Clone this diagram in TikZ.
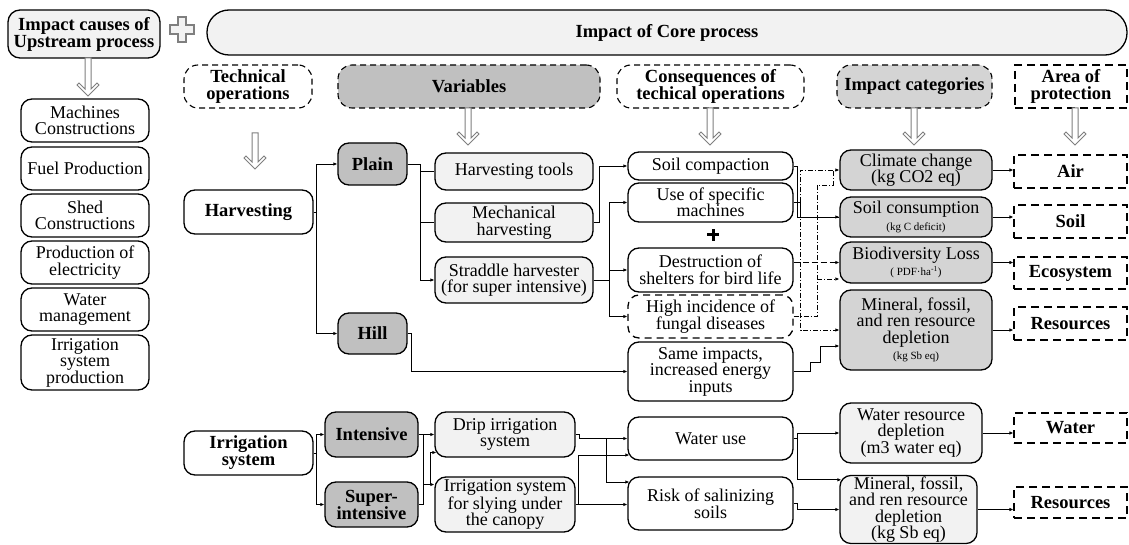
\documentclass[tikz,border=0pt]{standalone}
\usepackage{fontspec}
\setmainfont{Liberation Serif}
\usetikzlibrary{arrows.meta,calc}
\definecolor{lightg}{HTML}{F2F2F2}
\definecolor{midg}{HTML}{D4D4D4}
\definecolor{darkg}{HTML}{C0C0C0}
\definecolor{arrg}{HTML}{7F7F7F}
\newcommand\fsn{\fontsize{18}{16.5}\selectfont}
\newcommand\fsb{\fontsize{18.5}{17}\selectfont\bfseries}
\newcommand\fss{\fontsize{11}{11}\selectfont}
\newcommand\bx[7]{\node[#2, minimum width={#5-#3}, minimum height={#6-#4}] (#1) at ({(#3+#5)/2},{(#4+#6)/2}) {#7};}
\newcommand\harrow[3]{\draw[arrg, line width=1pt, fill=white, line join=miter] (#1-3,#2) -- (#1-3,#3-7) -- (#1-9,#3-13) -- (#1-11,#3-11) -- (#1,#3) -- (#1+11,#3-11) -- (#1+9,#3-13) -- (#1+3,#3-7) -- (#1+3,#2) -- cycle;}
\tikzset{
 bxs/.style={draw, line width=1.3pt, rounded corners=11pt, align=center, inner sep=1pt, font=\fsn},
 lt/.style={bxs, fill=lightg},
 dk/.style={bxs, fill=darkg, font=\fsb},
 md/.style={bxs, fill=midg},
 hd/.style={draw, line width=1.1pt, dash pattern=on 6pt off 4pt, rounded corners=14pt, align=center, inner sep=1pt, font=\fsb},
 aop/.style={draw, line width=1.1pt, dash pattern=on 8pt off 5pt, align=center, inner sep=1pt, font=\fsb},
 ln/.style={line width=0.8pt},
 ar/.style={ln, -{Latex[length=4pt,width=3.5pt]}},
 dd/.style={ln, dash pattern=on 5pt off 2pt on 1pt off 2pt},
}
\begin{document}
\begin{tikzpicture}[x=1pt,y=-1pt]
\useasboundingbox (0,0) rectangle (1129,545);
% top
\bx{ups}{bxs,fill=lightg,font=\fsb,rounded corners=12pt}{8}{10}{160}{58}{Impact causes of\\Upstream process}
\bx{core}{bxs,fill=lightg,font=\fsb,rounded corners=22pt}{207}{10}{1127}{55}{Impact of Core process}
\draw[arrg, line width=1.1pt, fill=lightg] (178,17) -- (186,17) -- (186,25) -- (194,25) -- (194,34) -- (186,34) -- (186,42) -- (178,42) -- (178,34) -- (170,34) -- (170,25) -- (178,25) -- cycle;
% headers
\bx{hto}{hd}{184}{65}{312}{108}{Technical\\operations}
\bx{hvar}{hd,fill=darkg}{338}{65}{600}{108}{Variables}
\bx{hcon}{hd}{617}{65}{804}{108}{Consequences of\\techical operations}
\bx{hcat}{hd,fill=midg}{837}{65}{992}{108}{Impact categories}
\bx{haop}{aop}{1015}{65}{1127}{108}{Area of\\protection}
% hollow arrows
\harrow{88}{58}{96}
\harrow{255}{133}{169}
\harrow{468}{108}{145}
\harrow{710}{108}{145}
\harrow{914}{108}{145}
\harrow{1075}{108}{145}
% upstream
\bx{u1}{bxs}{21}{99}{149}{142}{Machines\\Constructions}
\bx{u2}{bxs}{21}{147}{149}{190}{Fuel Production}
\bx{u3}{bxs}{21}{194}{149}{237}{Shed\\Constructions}
\bx{u4}{bxs}{21}{241}{149}{284}{Production of\\electricity}
\bx{u5}{bxs}{21}{288}{149}{331}{Water\\management}
\bx{u6}{bxs}{21}{335}{149}{390}{Irrigation\\system\\production}
% technical operations
\bx{harv}{bxs,font=\fsb}{184}{190}{313}{234}{Harvesting}
\bx{irr}{bxs,font=\fsb}{184}{431}{313}{475}{Irrigation\\system}
% variables
\bx{plain}{dk}{338}{143}{407}{185}{Plain}
\bx{hill}{dk}{338}{313}{407}{354}{Hill}
\bx{int}{dk}{325}{412}{418}{457}{Intensive}
\bx{sup}{dk}{325}{482}{418}{527}{Super-\\intensive}
\bx{tools}{lt}{435}{153}{593}{190}{Harvesting tools}
\bx{mech}{lt}{435}{203}{593}{242}{Mechanical\\harvesting}
\bx{strad}{lt}{435}{257}{593}{303}{Straddle harvester\\(for super intensive)}
\bx{drip}{lt}{435}{412}{575}{457}{Drip irrigation\\system}
\bx{sly}{lt}{435}{477}{575}{532}{Irrigation system\\for slying under\\the canopy}
% consequences
\bx{soilc}{bxs}{628}{152}{793}{180}{Soil compaction}
\bx{use}{bxs}{628}{183}{793}{222}{Use of specific\\machines}
\bx{destr}{bxs}{628}{248}{793}{292}{Destruction of\\shelters for bird life}
\bx{high}{bxs, dash pattern=on 7pt off 5pt}{628}{295}{793}{338}{High incidence of\\fungal diseases}
\bx{same}{bxs}{628}{342}{793}{401}{Same impacts,\\increased energy\\inputs}
\bx{wuse}{bxs}{628}{417}{793}{460}{Water use}
\bx{risk}{bxs}{628}{477}{793}{530}{Risk of salinizing\\soils}
\fill (711.5,229) rectangle (714.5,241);
\fill (707,233.5) rectangle (719,236.5);
% categories
\bx{clim}{md}{840}{150}{992}{190}{Climate change\\(kg CO2 eq)}
\bx{scons}{md}{840}{197}{992}{237}{Soil consumption\\{\fss (kg C deficit)}}
\bx{bio}{md}{840}{242}{992}{283}{Biodiversity Loss\\{\fss ( PDF·ha\textsuperscript{-1})}}
\bx{min1}{md}{840}{290}{992}{370}{Mineral, fossil,\\and ren resource\\depletion\\{\fss (kg Sb eq)}}
\bx{wrd}{lt}{840}{403}{982}{463}{Water resource\\depletion\\(m3 water eq)}
\bx{min2}{lt}{840}{476}{977}{543}{Mineral, fossil,\\and ren resource\\depletion\\(kg Sb eq)}
% areas of protection
\bx{air}{aop}{1014}{155}{1127}{188}{Air}
\bx{soil}{aop}{1014}{205}{1127}{238}{Soil}
\bx{eco}{aop}{1014}{257}{1127}{289}{Ecosystem}
\bx{res1}{aop}{1014}{307}{1127}{340}{Resources}
\bx{water}{aop}{1014}{413}{1127}{443}{Water}
\bx{res2}{aop}{1014}{487}{1127}{518}{Resources}
% connectors: harvesting
\draw[ar] (harv.east) -- ++(3,0) |- (plain.west);
\draw[ar] (harv.east) -- ++(3,0) |- (hill.west);
\draw[ln] (plain.east) -- ++(13,0) |- (tools.west);
\draw[ln] (plain.east) -- ++(13,0) |- (mech.west);
\draw[ar] (plain.east) -- ++(13,0) |- (strad.west);
\draw[ar] (mech.east) -- ++(6,0) |- (soilc.west);
\draw[ar] (strad.east) -- ++(16,0) |- (use.west);
\draw[ar] (strad.east) -- ++(16,0) |- (destr.west);
\draw[ar] (strad.east) -- ++(16,0) |- (high.west);
\draw[ar] (hill.east) -- ++(4,0) |- (same.west);
% consequences -> categories
\draw[ar] (soilc.east) -- ++(4,0) |- (scons.west);
\draw[ln] (use.east) -- ++(7,0) |- (scons.west);
\draw[dd,ar] (use.east) ++(7,0) |- (clim.west);
\draw[dd,ar] (use.east) ++(7,0) |- (min1.west);
\draw[ln,dash pattern=on 6pt off 3pt,-{Latex[length=4pt,width=3.5pt]}] (destr.east |- bio.west) -- (bio.west);
\draw[dd] (high.east) -| (817,185) -| (833,170);
\draw[dd,ar] (817,279) -- (bio.west |- 817,279);
\draw[ar] (same.east) -- (810,371.5) -- (810,362) -- (820,362) -- (820,346) -- (min1.west |- 820,346);
\foreach \a/\b in {clim/air, scons/soil, bio/eco, min1/res1, wrd/water, min2/res2}
  \draw[ar] (\a.east) -- (\a.east -| \b.west);
% irrigation
\draw[ar] (irr.east) -- ++(3,0) |- (int.west);
\draw[ar] (irr.east) -- ++(3,0) |- (sup.west);
\draw[ar] (int.east) -- (drip.west);
\draw[ln] (sup.east) -- ++(5,0) |- (int.east);
\draw[ar] (423,484.5) -- (sly.west |- 423,484.5);
\draw[ar] (430,484.5) |- ($(drip.west)+(2,18)$);
\draw[ar] (drip.east) -- ++(4,0) |- (wuse.west);
\draw[ar] (606,438.5) |- ($(risk.west)+(2,-21.5)$);
\draw[ar] (sly.east) -- (sly.east -| risk.west);
\draw[ar] (sly.east) ++(3,0) |- ($(wuse.west)+(2,16.5)$);
\draw[ar] (wuse.east) -- ++(4,0) |- (wrd.west);
\draw[ar] (wuse.east) -- ++(4,0) |- ($(min2.north west)+(2,5)$);
\draw[ar] (risk.east) -- ++(4,0) |- (min2.west);
\end{tikzpicture}
\end{document}
